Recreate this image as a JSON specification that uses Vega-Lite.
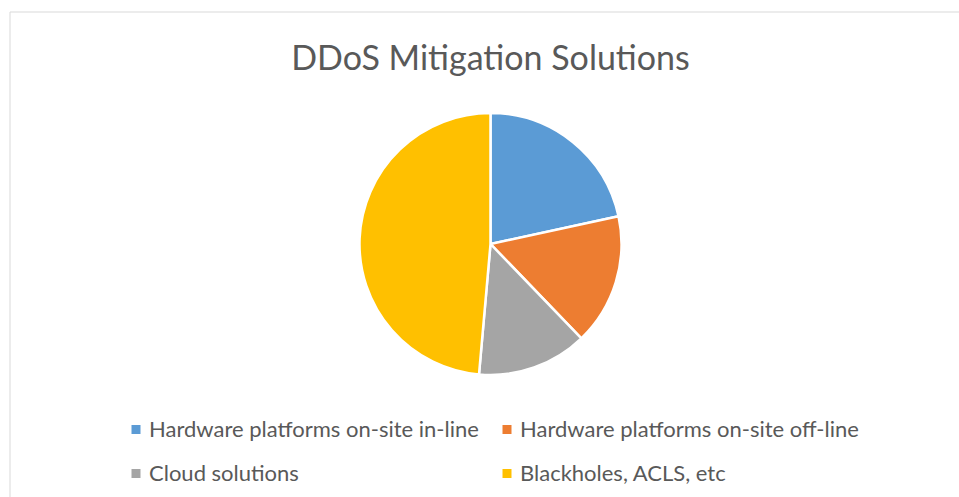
{
  "$schema": "https://vega.github.io/schema/vega-lite/v6.json",
  "width": 951,
  "height": 487,
  "autosize": {"type": "none"},
  "padding": {"left": 10, "top": 12, "right": -2, "bottom": -2},
  "background": "white",
  "title": {
    "text": "DDoS Mitigation Solutions",
    "font": "Lato",
    "fontSize": 34,
    "fontWeight": "normal",
    "color": "#595959",
    "anchor": "middle",
    "dx": 5,
    "dy": 69
  },
  "layer": [
    {
      "data": {"values": [{"frame": 1}]},
      "mark": {"type": "rect", "fill": null, "fillOpacity": 0, "stroke": "#D9D9D9", "strokeWidth": 1},
      "encoding": {}
    },
    {
      "data": {
        "values": [
          {"solution": "Hardware platforms on-site in-line", "share": 21.6, "order": 1},
          {"solution": "Hardware platforms on-site off-line", "share": 16.2, "order": 2},
          {"solution": "Cloud solutions", "share": 13.6, "order": 3},
          {"solution": "Blackholes, ACLS, etc", "share": 48.6, "order": 4}
        ]
      },
      "mark": {
        "type": "arc",
        "outerRadius": 131,
        "stroke": "white",
        "strokeWidth": 2.5,
        "xOffset": 5,
        "yOffset": -11.5
      },
      "encoding": {
        "theta": {"field": "share", "type": "quantitative", "stack": true},
        "order": {"field": "order", "type": "quantitative"},
        "color": {
          "field": "solution",
          "type": "nominal",
          "scale": {
            "domain": ["Hardware platforms on-site in-line", "Hardware platforms on-site off-line", "Cloud solutions", "Blackholes, ACLS, etc"],
            "range": ["#5B9BD5", "#ED7D31", "#A5A5A5", "#FFC000"]
          },
          "legend": {
            "title": null,
            "orient": "none",
            "legendX": 115,
            "legendY": 406.5,
            "direction": "horizontal",
            "columns": 2,
            "columnPadding": 17,
            "rowPadding": 22,
            "symbolType": "square",
            "symbolSize": 81,
            "symbolStrokeWidth": 0,
            "labelFont": "Lato",
            "labelFontSize": 22,
            "labelColor": "#595959",
            "labelOffset": 2,
            "labelLimit": 500
          }
        }
      }
    }
  ],
  "config": {
    "view": {"stroke": null}
  }
}
